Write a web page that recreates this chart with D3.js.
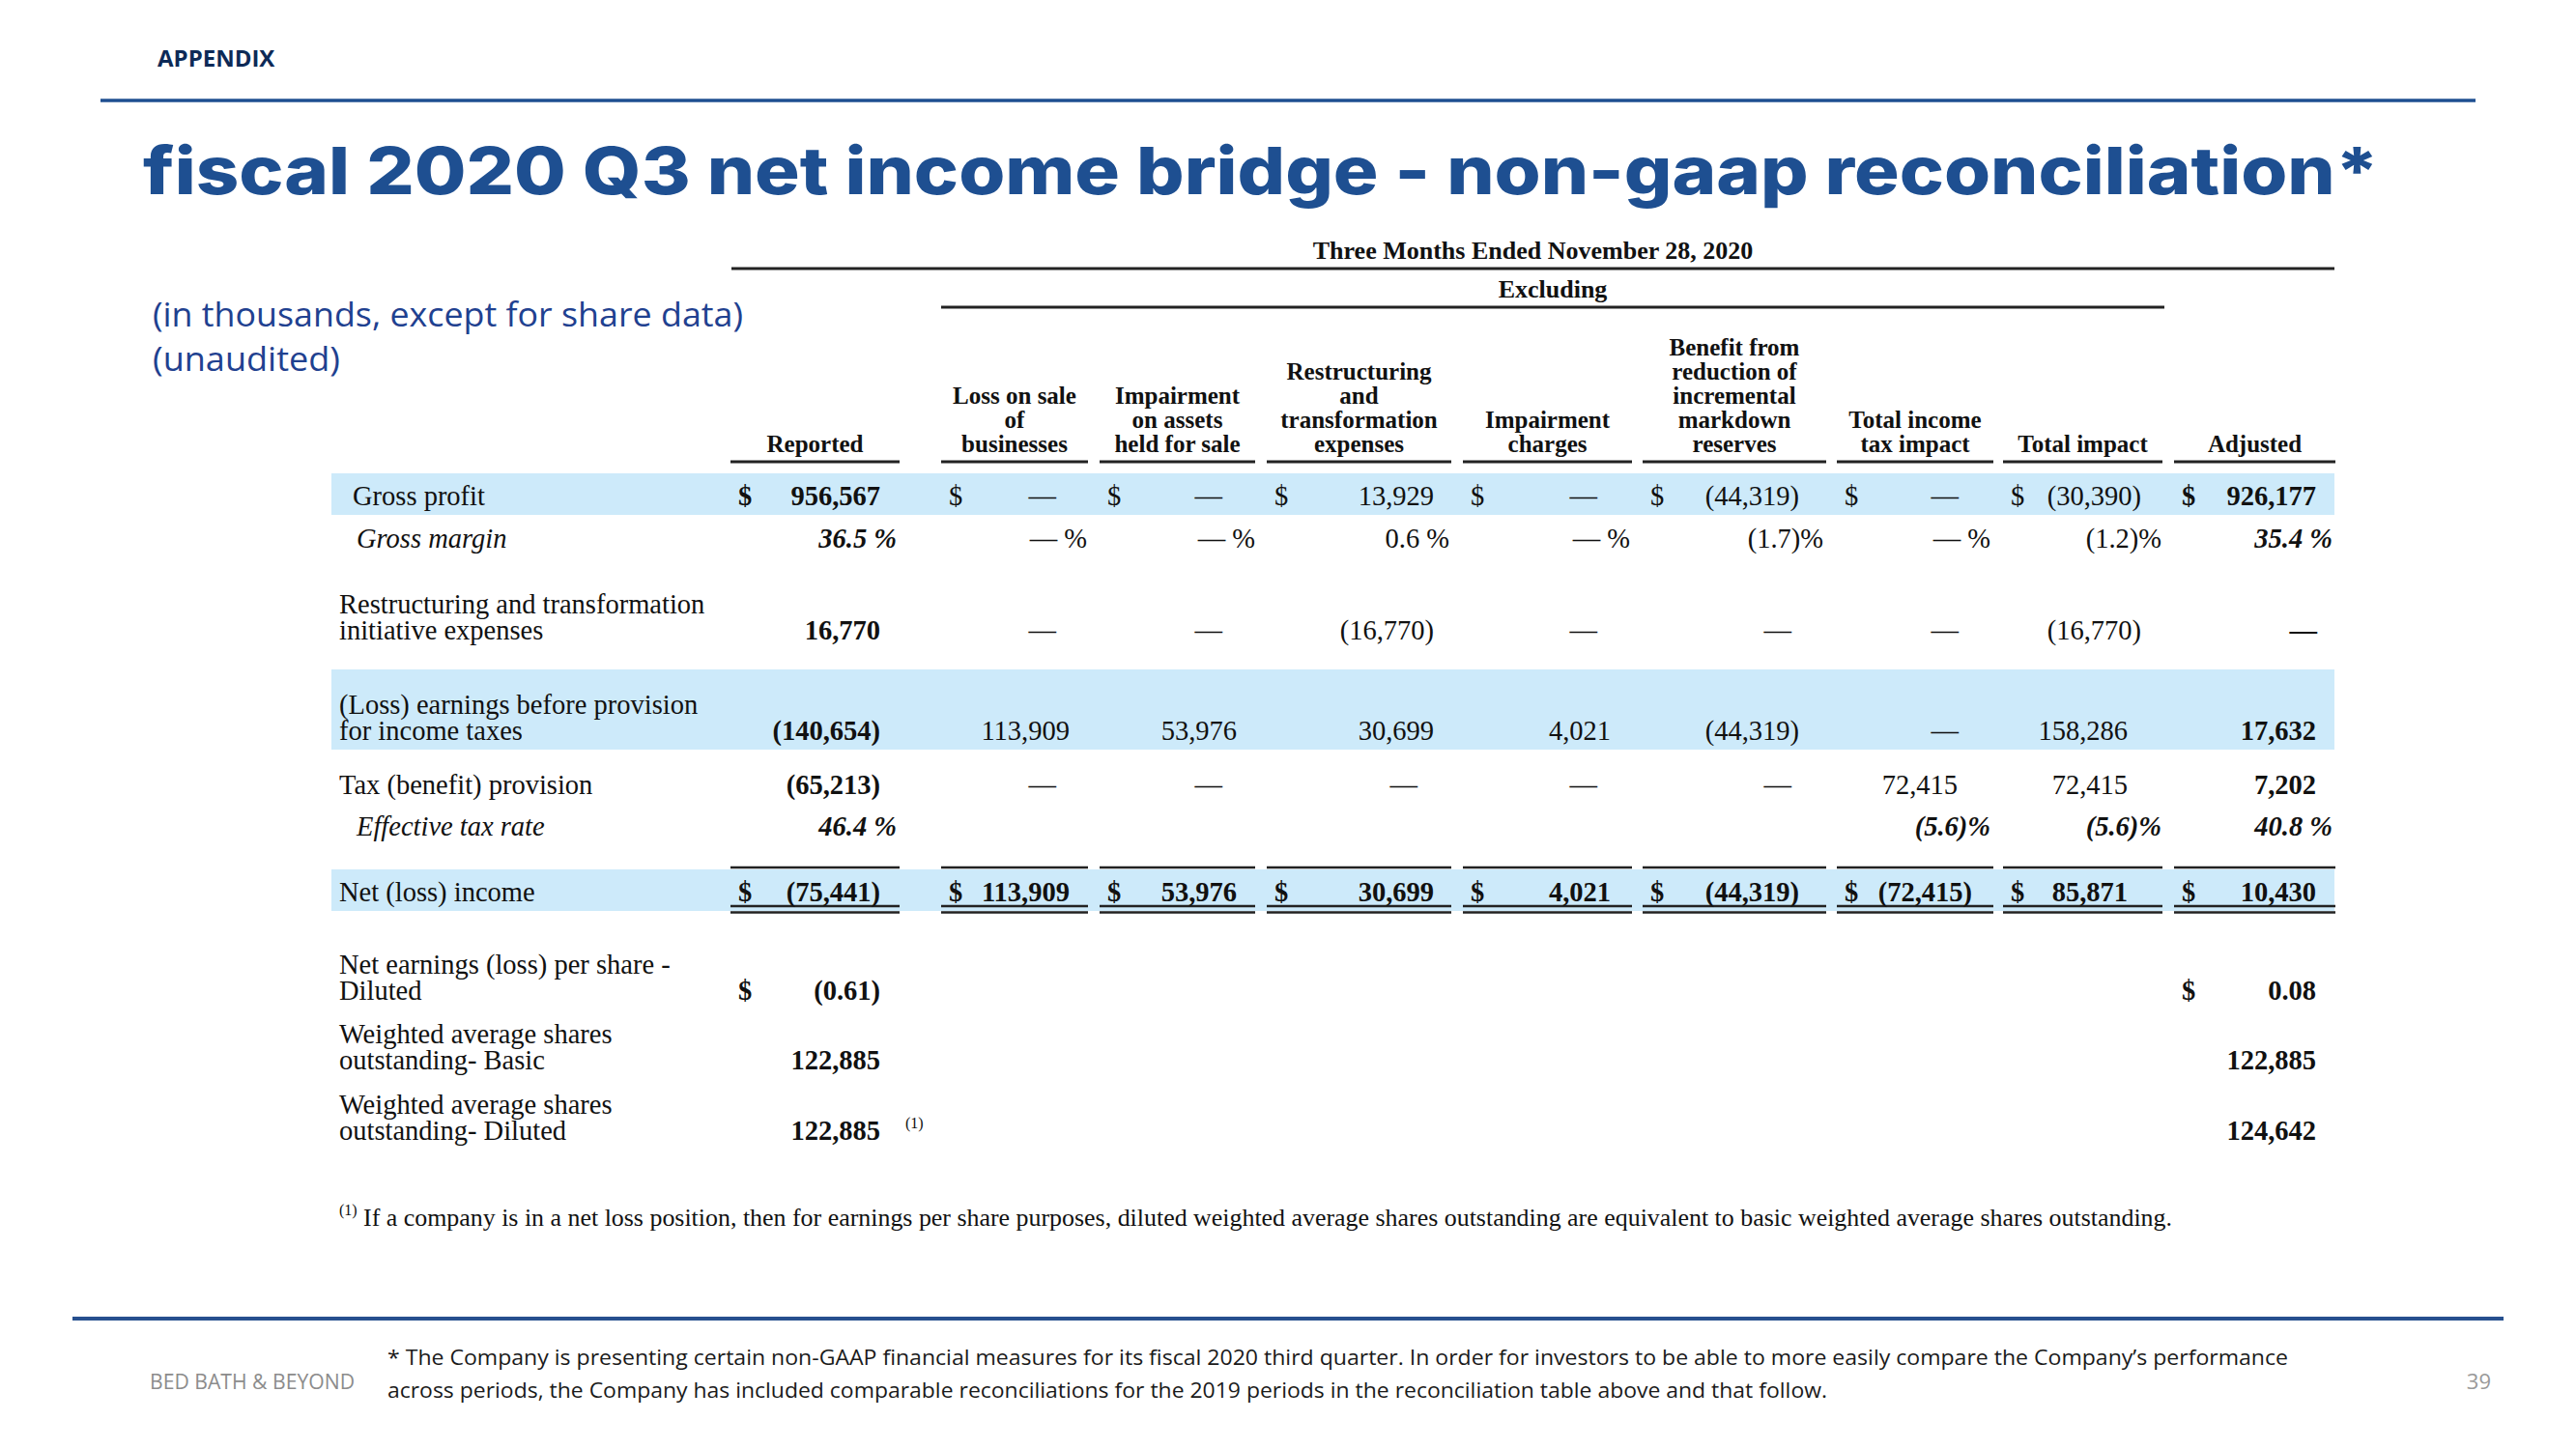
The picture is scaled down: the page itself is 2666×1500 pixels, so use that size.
<!DOCTYPE html>
<html>
<head>
<meta charset="utf-8">
<script src="https://cdn.jsdelivr.net/npm/d3@7"></script>
<style>
  body { margin: 0; background: #fff; }
</style>
</head>
<body>
<svg id="chart"></svg>
<script>
// ---- data ----
const headers = [
  ["Reported"],
  ["Loss on sale", "of", "businesses"],
  ["Impairment", "on assets", "held for sale"],
  ["Restructuring", "and", "transformation", "expenses"],
  ["Impairment", "charges"],
  ["Benefit from", "reduction of", "incremental", "markdown", "reserves"],
  ["Total income", "tax impact"],
  ["Total impact"],
  ["Adjusted"]
];

const rowLabels = [
  ["Gross profit"],
  ["Gross margin"],
  ["Restructuring and transformation", "initiative expenses"],
  ["(Loss) earnings before provision", "for income taxes"],
  ["Tax (benefit) provision"],
  ["Effective tax rate"],
  ["Net (loss) income"],
  ["Net earnings (loss) per share -", "Diluted"],
  ["Weighted average shares", "outstanding- Basic"],
  ["Weighted average shares", "outstanding- Diluted"]
];

const reported        = ["956,567", "36.5 %", "16,770", "(140,654)", "(65,213)", "46.4 %", "(75,441)", "(0.61)", "122,885", "122,885"];
const lossOnSale      = ["—", "— %", "—", "113,909", "—", "", "113,909", "", "", ""];
const impairAssets    = ["—", "— %", "—", "53,976", "—", "", "53,976", "", "", ""];
const restructuring   = ["13,929", "0.6 %", "(16,770)", "30,699", "—", "", "30,699", "", "", ""];
const impairCharges   = ["—", "— %", "—", "4,021", "—", "", "4,021", "", "", ""];
const markdownBenefit = ["(44,319)", "(1.7)%", "—", "(44,319)", "—", "", "(44,319)", "", "", ""];
const taxImpact       = ["—", "— %", "—", "—", "72,415", "(5.6)%", "(72,415)", "", "", ""];
const totalImpact     = ["(30,390)", "(1.2)%", "(16,770)", "158,286", "72,415", "(5.6)%", "85,871", "", "", ""];
const adjusted        = ["926,177", "35.4 %", "—", "17,632", "7,202", "40.8 %", "10,430", "0.08", "122,885", "124,642"];

const columns = [reported, lossOnSale, impairAssets, restructuring, impairCharges,
                 markdownBenefit, taxImpact, totalImpact, adjusted];

const footnote = "If a company is in a net loss position, then for earnings per share purposes, diluted weighted average shares outstanding are equivalent to basic weighted average shares outstanding.";
const pageNote = [
  "* The Company is presenting certain non-GAAP financial measures for its fiscal 2020 third quarter. In order for investors to be able to more easily compare the Company\u2019s performance",
  "across periods, the Company has included comparable reconciliations for the 2019 periods in the reconciliation table above and that follow."
];

// ---- layout ----
const W = 2666, H = 1500;
const serif = "'Liberation Serif', 'Times New Roman', serif";
const sans = "'Open Sans', sans-serif";
const navy = "#1e4f91";

const svg = d3.select("#chart").attr("width", W).attr("height", H);

const colKeys = d3.range(columns.length);
const colLeft = d3.scaleOrdinal().domain(colKeys).range([756, 974, 1138, 1311, 1514, 1700, 1901, 2073, 2250]);
const colRight = d3.scaleOrdinal().domain(colKeys).range([931, 1126, 1299, 1502, 1689, 1890, 2063, 2238, 2417]);
// where plain numbers, bracketed numbers, dashes and percents end inside each column
const numEnd = d3.scaleOrdinal().domain(colKeys).range([911, 1107, 1280, 1484, 1667, 1854, 2026, 2202, 2397]);
const parenEnd = d3.scaleOrdinal().domain(colKeys).range([911, 1107, 1280, 1484, 1667, 1862, 2041, 2216, 2397]);
const dashEnd = d3.scaleOrdinal().domain(colKeys).range([911, 1093, 1265, 1467, 1653, 1854, 2027, 2202, 2398]);
const pctEnd = d3.scaleOrdinal().domain(colKeys).range([928, 1125, 1299, 1500, 1687, 1887, 2060, 2237, 2414]);

const rowKeys = d3.range(rowLabels.length);
const rowY = d3.scaleOrdinal().domain(rowKeys).range([523, 567, 662, 766, 822, 865, 933, 1035, 1107, 1180]);
const lineH = 27;
const bandRows = [[0, 490, 533], [3, 693, 776], [6, 900, 943]];
const dollarRows = { 0: colKeys, 6: colKeys, 7: [0, 8] };

function fitWidth(sel, w) {
  sel.attr("textLength", w).attr("lengthAdjust", "spacingAndGlyphs");
}

// ---- slide chrome ----
svg.append("text").attr("x", 163).attr("y", 69)
  .attr("font-family", sans).attr("font-weight", 700).attr("font-size", 24)
  .attr("fill", "#0d2a57").text("APPENDIX");

svg.append("line").attr("x1", 104).attr("x2", 2562).attr("y1", 104).attr("y2", 104)
  .attr("stroke", navy).attr("stroke-width", 3.5);

svg.append("text").attr("x", 148).attr("y", 201)
  .attr("font-family", "Inter, sans-serif").attr("font-weight", 800).attr("font-size", 68)
  .attr("fill", navy).text("fiscal 2020 Q3 net income bridge - non-gaap reconciliation*")
  .call(fitWidth, 2314);

svg.append("text").attr("x", 158).attr("y", 338)
  .attr("font-family", sans).attr("font-size", 35).attr("fill", "#1f4190")
  .text("(in thousands, except for share data)").call(fitWidth, 611);
svg.append("text").attr("x", 158).attr("y", 384)
  .attr("font-family", sans).attr("font-size", 35).attr("fill", "#1f4190")
  .text("(unaudited)").call(fitWidth, 194);

// ---- table bands ----
svg.append("g").selectAll("rect").data(bandRows).join("rect")
  .attr("x", 343).attr("width", 2416 - 343)
  .attr("y", d => d[1]).attr("height", d => d[2] - d[1])
  .attr("fill", "#cdeafa");

// ---- header ----
const head = svg.append("g").attr("font-family", serif).attr("font-weight", 700)
  .attr("font-size", 25).attr("fill", "#111").attr("text-anchor", "middle");

head.append("text").attr("x", (757 + 2416) / 2).attr("y", 268).attr("font-size", 26)
  .text("Three Months Ended November 28, 2020");
head.append("text").attr("x", (974 + 2240) / 2).attr("y", 308).attr("font-size", 26).text("Excluding");

svg.append("line").attr("x1", 757).attr("x2", 2416).attr("y1", 278).attr("y2", 278)
  .attr("stroke", "#222").attr("stroke-width", 3);
svg.append("line").attr("x1", 974).attr("x2", 2240).attr("y1", 318).attr("y2", 318)
  .attr("stroke", "#222").attr("stroke-width", 3);

head.selectAll("g.col").data(headers).join("g").attr("class", "col")
  .each(function (lines, c) {
    d3.select(this).selectAll("text").data(lines).join("text")
      .attr("x", (colLeft(c) + colRight(c)) / 2)
      .attr("y", (d, i) => 468 - 25 * (lines.length - 1 - i))
      .text(d => d);
  });

// column rules: header underline, rule above net income, double rule below
const rules = svg.append("g").attr("stroke", "#222");
[[478, 3], [898, 2.6], [938, 2.6], [944.5, 2.6]].forEach(([y, w]) => {
  rules.selectAll(null).data(colKeys).join("line")
    .attr("x1", c => colLeft(c)).attr("x2", c => colRight(c))
    .attr("y1", y).attr("y2", y).attr("stroke-width", w);
});

// ---- row labels ----
const labelG = svg.append("g").attr("font-family", serif).attr("font-size", 28.5).attr("fill", "#111");
labelG.selectAll("g").data(rowLabels).join("g").each(function (lines, r) {
  const italic = r === 1 || r === 5;
  const x = r === 0 ? 365 : italic ? 369 : 351;
  d3.select(this).selectAll("text").data(lines).join("text")
    .attr("x", x)
    .attr("y", (d, i) => rowY(r) - lineH * (lines.length - 1 - i))
    .attr("font-style", italic ? "italic" : null)
    .text(d => d);
});

// ---- values ----
function cellX(v, c) {
  if (v.includes("%")) return pctEnd(c);
  if (v === "—") return dashEnd(c);
  if (v.startsWith("(")) return parenEnd(c);
  return numEnd(c);
}

const cells = [];
columns.forEach((vals, c) => vals.forEach((v, r) => { if (v) cells.push({ v, c, r }); }));

const valueG = svg.append("g").attr("font-family", serif).attr("font-size", 28.5).attr("fill", "#111");
valueG.selectAll("text.v").data(cells).join("text").attr("class", "v")
  .attr("x", d => cellX(d.v, d.c)).attr("y", d => rowY(d.r))
  .attr("text-anchor", "end")
  .attr("font-weight", d => (d.c === 0 || d.c === 8 || d.r === 6 || d.r === 5) ? 700 : 400)
  .attr("font-style", d => (d.r === 5 || (d.r === 1 && (d.c === 0 || d.c === 8))) ? "italic" : null)
  .text(d => d.v);

const dollars = [];
Object.entries(dollarRows).forEach(([r, cs]) => cs.forEach(c => dollars.push({ r: +r, c })));
valueG.selectAll("text.d").data(dollars).join("text").attr("class", "d")
  .attr("x", d => colLeft(d.c) + 8).attr("y", d => rowY(d.r))
  .attr("font-weight", d => (d.c === 0 || d.c === 8 || d.r === 6) ? 700 : 400)
  .text("$");

// footnote marker on diluted shares
valueG.append("text").attr("x", 937).attr("y", rowY(9) - 12).attr("font-size", 16).text("(1)");

// ---- footnote ----
const fn = svg.append("g").attr("font-family", serif).attr("fill", "#111");
fn.append("text").attr("x", 351).attr("y", 1258).attr("font-size", 16).text("(1)");
fn.append("text").attr("x", 376).attr("y", 1269).attr("font-size", 26).text(footnote).call(fitWidth, 1872);

// ---- slide footer ----
svg.append("line").attr("x1", 75).attr("x2", 2591).attr("y1", 1365).attr("y2", 1365)
  .attr("stroke", "#27508f").attr("stroke-width", 4);

svg.append("text").attr("x", 155).attr("y", 1438)
  .attr("font-family", sans).attr("font-size", 21).attr("fill", "#8c8c8c")
  .text("BED BATH & BEYOND").call(fitWidth, 212);

svg.append("g").attr("font-family", sans).attr("font-size", 22).attr("fill", "#1a1a1a")
  .selectAll("text").data(pageNote).join("text")
  .attr("x", 401).attr("y", (d, i) => 1413 + 34 * i)
  .text(d => d)
  .each(function (d, i) { d3.select(this).call(fitWidth, i === 0 ? 1967 : 1490); });

svg.append("text").attr("x", 2578).attr("y", 1438).attr("text-anchor", "end")
  .attr("font-family", sans).attr("font-size", 22).attr("fill", "#999").text("39");
</script>
</body>
</html>
